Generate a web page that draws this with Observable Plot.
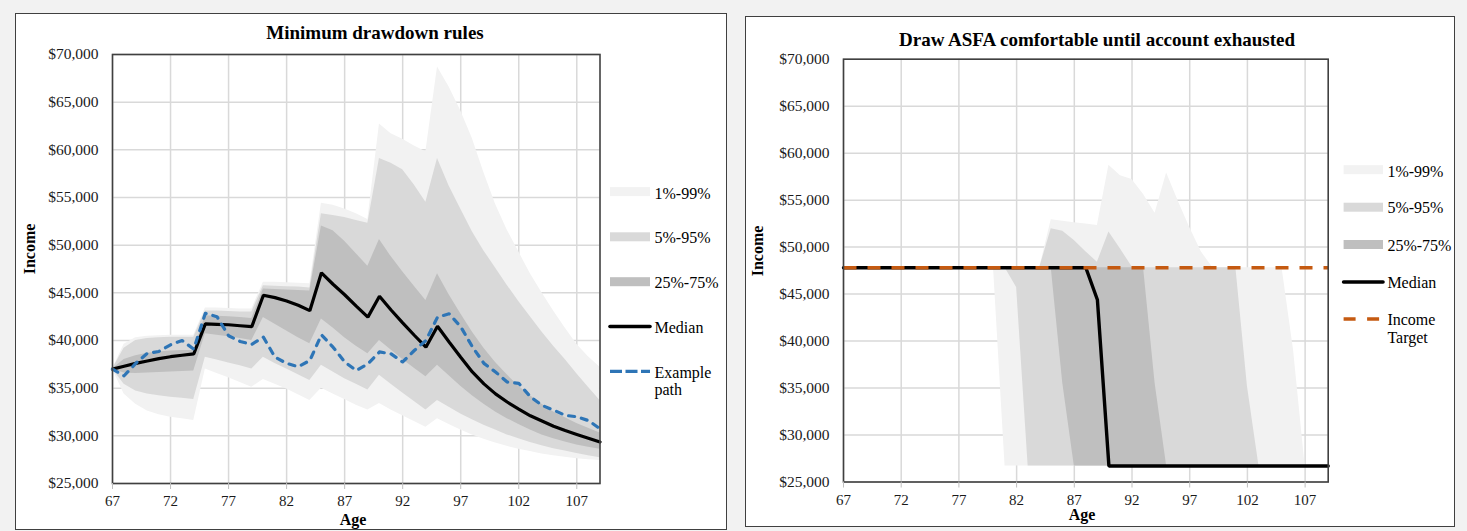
<!DOCTYPE html>
<html>
<head>
<meta charset="utf-8">
<script src="https://cdn.jsdelivr.net/npm/d3@7"></script>
<script src="https://cdn.jsdelivr.net/npm/@observablehq/plot@0.6"></script>
<style>
  html, body { margin: 0; padding: 0; background: #f2f2f2; }
  #root { position: relative; width: 1467px; height: 531px; overflow: hidden; font-family: "Liberation Serif", "Times New Roman", serif; }
  .panel { position: absolute; background: #ffffff; border: 1.5px solid #404040; box-sizing: border-box; }
  .plotbox { position: absolute; }
  .plotbox svg { display: block; }
  #overlay { position: absolute; left: 0; top: 0; pointer-events: none; }
</style>
</head>
<body>
<div id="root">
  <div class="panel" style="left:15px; top:13px; width:712px; height:517px;"></div>
  <div class="panel" style="left:745px; top:16px; width:710px; height:511px;"></div>
  <div class="plotbox" id="plotL" style="left:20px; top:44px; width:590px; height:484px;"></div>
  <div class="plotbox" id="plotR" style="left:750px; top:48px; width:590px; height:480px;"></div>
</div>
<script>
// ---------- shared axis values ----------
const ages = [67,68,69,70,71,72,73,74,75,76,77,78,79,80,81,82,83,84,85,86,87,88,89,90,91,92,93,94,95,96,97,98,99,100,101,102,103,104,105,106,107,108,109];
const xTicks = [67,72,77,82,87,92,97,102,107];
const yTicks = [25000,30000,35000,40000,45000,50000,55000,60000,65000,70000];

// ---------- left chart: Minimum drawdown rules ----------
const p1L  = [37000,34400,33300,32600,32200,31950,31800,31600, 37000,36550,36100,35600,35100, 35900,35400,34900,34300,33700, 35000,34400,33800,33200,32700, 33400,32700,32100,31500,30900, 31800,31200,30600,30100,29650,29250,28900,28600,28350,28100,27900,27750,27600,27500,27400];
const p5L  = [37000,35400,34700,34400,34200,34050,33950,33800, 38250,37950,37650,37350,37000, 38250,37600,37000,36400,35800, 37400,36700,36000,35400,34800, 36350,35400,34500,33600,32700, 33700,33000,32300,31700,31100,30600,30100,29700,29300,28950,28650,28400,28150,27900,27700];
const p25L = [37000,36600,36550,36600,36650,36700,36750,36800, 40700,40550,40400,40200,40000, 42400,41700,41000,40300,39650, 42250,41300,40300,39400,38600, 40000,39000,38000,37100,36200, 37400,36300,35200,34200,33300,32500,31800,31200,30600,30100,29700,29350,29050,28800,28600];
const p75L = [37000,38000,38400,38650,38800,38900,38950,38950, 42600,42550,42500,42400,42300, 45400,45350,45300,45250,45200, 52000,51500,50400,49100,47800, 50600,48800,47200,45700,44200, 47000,44800,42800,40900,39200,37700,36400,35200,34200,33300,32500,31900,31300,30800,30300];
const p95L = [37000,39200,40000,40200,40300,40350,40350,40350, 43100,43100,43050,43000,43000, 45750,45700,45650,45600,45500, 53300,53100,52900,52600,52300, 59100,58600,57900,56300,54500, 59100,56200,53800,51400,49400,47600,45800,44100,42500,40900,39400,38000,36500,35100,33700];
const p99L = [37000,39600,40300,40450,40500,40550,40550,40550, 43400,43400,43350,43300,43300, 46100,46100,46050,46000,45950, 54400,54200,53800,53300,52700, 62700,61700,61100,60400,59800, 68700,66600,64100,61200,57600,54300,51600,49300,47000,45000,43100,41300,39600,38300,37200];
const medianL = [37000,37300,37600,37850,38100,38300,38450,38600, 41750,41700,41650,41550,41450, 44750,44500,44150,43700,43130, 47100,45900,44800,43600,42450, 44650,43200,41850,40550,39300, 41500,39850,38250,36700,35450,34400,33550,32800,32100,31550,31000,30550,30150,29750,29350];
const pathL   = [37000,36300,37600,38650,38850,39550,40000,39100, 42850,42500,40500,39900,39600, 40350,38250,37600,37250,37900, 40600,39300,37750,36850,37550, 38800,38600,37750,38950,40000, 42450,42800,41450,39350,37600,36700,35650,35500,34100,33200,32700,32150,32000,31600,30750];

// ---------- right chart: Draw ASFA comfortable until account exhausted ----------
const p1R  = [47800,47800,47800,47800,47800,47800,47800,47800,47800,47800,47800,47800,47800,47800, 26700,26700,26700,26700,26700,26700,26700,26700,26700,26700,26700,26700,26700,26700,26700,26700,26700,26700,26700,26700,26700,26700,26700,26700,26700,26700,26700,26700,26700];
const p5R  = [47800,47800,47800,47800,47800,47800,47800,47800,47800,47800,47800,47800,47800,47800,47800, 45700, 26700,26700,26700,26700,26700,26700,26700,26700,26700,26700,26700,26700,26700,26700,26700,26700,26700,26700,26700,26700,26700,26700,26700,26700,26700,26700,26700];
const p25R = [47800,47800,47800,47800,47800,47800,47800,47800,47800,47800,47800,47800,47800,47800,47800,47800,47800,47800,47800, 35500, 26700,26700,26700,26700,26700,26700,26700,26700,26700,26700,26700,26700,26700,26700,26700,26700,26700,26700,26700,26700,26700,26700,26700];
const p75R = [47800,47800,47800,47800,47800,47800,47800,47800,47800,47800,47800,47800,47800,47800,47800,47800,47800,47800,47800,47800,47800,47800,47800,47800,47800,47800,47800, 35500, 26700,26700,26700,26700,26700,26700,26700,26700,26700,26700,26700,26700,26700,26700,26700];
const p95R = [47800,47800,47800,47800,47800,47800,47800,47800,47800,47800,47800,47800,47800,47800,47800,47800,47800,47800, 51950,51700,50700,49500,48400, 51600,49800,47900, 47800,47800,47800,47800,47800,47800,47800,47800,47800, 35200, 26700,26700,26700,26700,26700,26700,26700];
const p99R = [47800,47800,47800,47800,47800,47800,47800,47800,47800,47800,47800,47800,47800,47800,47800,47800,47800,47800, 52900,52750,52600,52450,52300, 58700,57600,57200,55600,53600, 57900,54900,52100,49500, 47800,47800,47800,47800,47800,47800,47800, 39000, 26700,26700,26700];
const medianR = [47800,47800,47800,47800,47800,47800,47800,47800,47800,47800,47800,47800,47800,47800,47800,47800,47800,47800,47800,47800,47800,47800, 44400, 26700,26700,26700,26700,26700,26700,26700,26700,26700,26700,26700,26700,26700,26700,26700,26700,26700,26700,26700,26700];
const targetR = [47800,47800,47800,47800,47800,47800,47800,47800,47800,47800,47800,47800,47800,47800,47800,47800,47800,47800,47800,47800,47800,47800,47800,47800,47800,47800,47800,47800,47800,47800,47800,47800,47800,47800,47800,47800,47800,47800,47800,47800,47800,47800,47800];

// ---------- colours ----------
const C1 = "#f2f2f2", C5 = "#d9d9d9", C25 = "#bfbfbf";
const BLUE = "#2e75b6", ORANGE = "#c55a11";

const tableL = ages.map((a, i) => ({age: a, p1: p1L[i], p5: p5L[i], p25: p25L[i], p75: p75L[i], p95: p95L[i], p99: p99L[i], median: medianL[i], path: pathL[i]}));
const tableR = ages.map((a, i) => ({age: a, p1: p1R[i], p5: p5R[i], p25: p25R[i], p75: p75R[i], p95: p95R[i], p99: p99R[i], median: medianR[i], target: targetR[i]}));

const fmt = d3.format("$,");
const fontFam = '"Liberation Serif", "Times New Roman", serif';

function base(width, height, margins, marks) {
  return Plot.plot({
    width, height,
    marginLeft: margins[0], marginRight: margins[1], marginTop: margins[2], marginBottom: margins[3],
    x: {domain: [67, 109]},
    y: {domain: [25000, 70000]},
    style: {fontFamily: fontFam, fontSize: "15px", background: "transparent", color: "#1a1a1a", overflow: "visible"},
    marks: [
      Plot.gridX(xTicks, {stroke: "#d9d9d9", strokeOpacity: 1, strokeWidth: 1.5}),
      Plot.gridY(yTicks, {stroke: "#d9d9d9", strokeOpacity: 1, strokeWidth: 1.5}),
      ...marks,
      Plot.frame({stroke: "#404040", strokeWidth: 1.6}),
      Plot.axisX(xTicks, {tickSize: 6, tickPadding: 6, stroke: "#bfbfbf", label: null, fontSize: 15, fill: "#1a1a1a", tickFormat: d => String(d)}),
      Plot.axisY(yTicks, {tickSize: 0, tickPadding: 14, label: null, fontSize: 15.5, fill: "#1a1a1a", tickFormat: fmt})
    ]
  });
}

const left = base(590, 484, [92, 10.5, 10, 45], [
  Plot.areaY(tableL, {x: "age", y1: "p1", y2: "p99", fill: C1}),
  Plot.areaY(tableL, {x: "age", y1: "p5", y2: "p95", fill: C5}),
  Plot.areaY(tableL, {x: "age", y1: "p25", y2: "p75", fill: C25}),
  Plot.lineY(tableL, {x: "age", y: "median", stroke: "#000", strokeWidth: 3.2, strokeLinejoin: "miter"}),
  Plot.lineY(tableL, {x: "age", y: "path", stroke: BLUE, strokeWidth: 3.2, strokeDasharray: "6,7", strokeLinecap: "round"})
]);
document.getElementById("plotL").appendChild(left);

const right = base(590, 480, [93, 12.3, 10.7, 46.5], [
  Plot.areaY(tableR, {x: "age", y1: "p1", y2: "p99", fill: C1}),
  Plot.areaY(tableR, {x: "age", y1: "p5", y2: "p95", fill: C5}),
  Plot.areaY(tableR, {x: "age", y1: "p25", y2: "p75", fill: C25}),
  Plot.lineY(tableR, {x: "age", y: "median", stroke: "#000", strokeWidth: 3.4, strokeLinejoin: "miter"}),
  Plot.lineY(tableR, {x: "age", y: "target", stroke: ORANGE, strokeWidth: 3.5, strokeDasharray: "13,11", strokeLinecap: "butt"})
]);
document.getElementById("plotR").appendChild(right);

// ---------- titles, axis labels, legends ----------
const ov = d3.select("#root").append("svg").attr("id", "overlay").attr("width", 1467).attr("height", 531)
  .style("font-family", fontFam);

function txt(x, y, s, size, weight, anchor, rotate) {
  const t = ov.append("text").attr("x", x).attr("y", y).text(s)
    .attr("font-size", size).attr("font-weight", weight || "normal")
    .attr("text-anchor", anchor || "start").attr("fill", "#000");
  if (rotate) t.attr("transform", `rotate(${rotate},${x},${y})`);
  return t;
}

txt(375, 39, "Minimum drawdown rules", 19, "bold", "middle");
txt(1097, 46, "Draw ASFA comfortable until account exhausted", 19, "bold", "middle");
txt(35, 249, "Income", 16, "bold", "middle", -90);
txt(763, 251, "Income", 16, "bold", "middle", -90);
txt(353, 525, "Age", 16, "bold", "middle");
txt(1082, 520, "Age", 16, "bold", "middle");

function legend(x0, x1, tx, items) {
  for (const it of items) {
    if (it.kind === "rect") {
      ov.append("rect").attr("x", x0).attr("y", it.cy - 4.5).attr("width", x1 - x0).attr("height", 9).attr("fill", it.color);
    } else {
      ov.append("line").attr("x1", x0).attr("x2", x1).attr("y1", it.cy).attr("y2", it.cy)
        .attr("stroke", it.color).attr("stroke-width", it.w)
        .attr("stroke-dasharray", it.dash || null).attr("stroke-linecap", it.cap || "butt");
    }
    it.lines.forEach((l, k) => txt(tx, it.base + k * 17.5, l, 16));
  }
}

legend(610, 650, 654.5, [
  {kind: "rect", color: C1, cy: 191.6, base: 199, lines: ["1%-99%"]},
  {kind: "rect", color: C5, cy: 236.8, base: 243, lines: ["5%-95%"]},
  {kind: "rect", color: C25, cy: 281.7, base: 288, lines: ["25%-75%"]},
  {kind: "line", color: "#000", w: 3.6, cap: "round", cy: 326.5, base: 332.6, lines: ["Median"]},
  {kind: "line", color: BLUE, w: 3.4, dash: "12,3.5", cy: 371.4, base: 377.5, lines: ["Example", "path"]}
]);

legend(1343.6, 1383, 1387.4, [
  {kind: "rect", color: C1, cy: 169.7, base: 176.5, lines: ["1%-99%"]},
  {kind: "rect", color: C5, cy: 207.2, base: 213, lines: ["5%-95%"]},
  {kind: "rect", color: C25, cy: 244.5, base: 250.5, lines: ["25%-75%"]},
  {kind: "line", color: "#000", w: 3.6, cap: "round", cy: 282, base: 288, lines: ["Median"]},
  {kind: "line", color: ORANGE, w: 3.5, dash: "12,11.5", cy: 319, base: 325, lines: ["Income", "Target"]}
]);
</script>
</body>
</html>
